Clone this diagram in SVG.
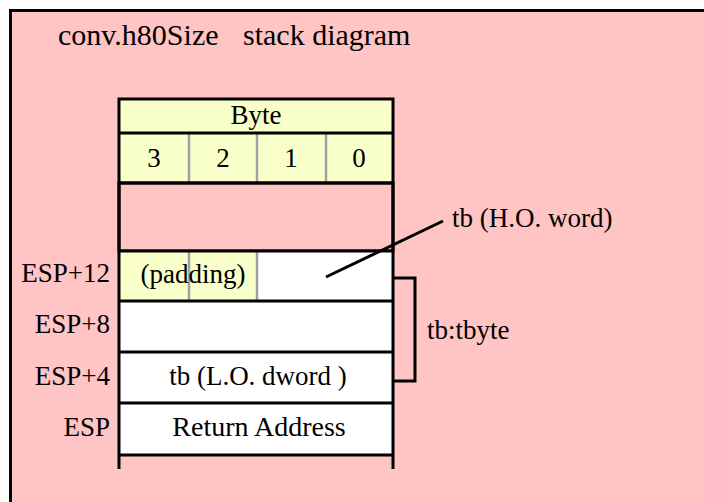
<svg xmlns="http://www.w3.org/2000/svg" width="704" height="502" viewBox="0 0 704 502">
<style>
text{font-family:"Liberation Serif","Times New Roman",serif;font-size:27px;fill:#000}
text.t{font-size:30px}
text.r{font-size:28px}
.mid{text-anchor:middle}
.end{text-anchor:end}
.b{stroke:#000;stroke-width:3;fill:none}
.g{stroke:#a0a0a0;stroke-width:2.5}
.y{fill:#f9ffc9}
.w{fill:#fff}
</style>
<rect x="10.5" y="10.5" width="720" height="520" fill="#ffc4c4" stroke="#000" stroke-width="3"/>
<g id="title">
<text x="58" y="45" class="t">conv.h80Size</text>
<text x="243" y="45" class="t">stack diagram</text>
</g>
<g id="header">
<rect x="119" y="99" width="274" height="34" class="y"/>
<text x="256" y="124" class="mid">Byte</text>
<rect x="119" y="133" width="274" height="50" class="y"/>
<line x1="189" y1="133" x2="189" y2="183" class="g"/>
<line x1="257" y1="133" x2="257" y2="183" class="g"/>
<line x1="326" y1="133" x2="326" y2="183" class="g"/>
<text x="154" y="167" class="mid">3</text>
<text x="223" y="167" class="mid">2</text>
<text x="291" y="167" class="mid">1</text>
<text x="359" y="167" class="mid">0</text>
<rect x="119" y="99" width="274" height="84" class="b"/>
<line x1="119" y1="133" x2="393" y2="133" class="b"/>
</g>
<g id="empty-row">
<rect x="119" y="183" width="274" height="68" class="b"/>
</g>
<g id="esp12">
<rect x="119" y="251" width="274" height="50" class="w"/>
<rect x="119" y="251" width="138" height="50" class="y"/>
<line x1="189" y1="251" x2="189" y2="301" class="g"/>
<line x1="257" y1="251" x2="257" y2="301" class="g"/>
<text x="193" y="283" class="mid">(padding)</text>
<text x="110" y="282" class="end">ESP+12</text>
</g>
<g id="esp8">
<rect x="119" y="301" width="274" height="51" class="w"/>
<text x="110" y="333" class="end">ESP+8</text>
</g>
<g id="esp4">
<rect x="119" y="352" width="274" height="51" class="w"/>
<text x="258" y="385" class="mid">tb (L.O. dword )</text>
<text x="110" y="385" class="end">ESP+4</text>
</g>
<g id="esp">
<rect x="119" y="403" width="274" height="52" class="w"/>
<text x="259" y="436" class="mid r">Return Address</text>
<text x="110" y="436" class="end">ESP</text>
</g>
<g id="frame-lines">
<line x1="119" y1="183" x2="119" y2="469" class="b"/>
<line x1="393" y1="183" x2="393" y2="469" class="b"/>
<line x1="119" y1="251" x2="393" y2="251" class="b" stroke-width="4"/>
<line x1="119" y1="301" x2="393" y2="301" class="b"/>
<line x1="119" y1="352" x2="393" y2="352" class="b"/>
<line x1="119" y1="403" x2="393" y2="403" class="b"/>
<line x1="119" y1="455" x2="393" y2="455" class="b"/>
</g>
<g id="tbyte-label">
<text x="427" y="339">tb:tbyte</text>
</g>
<g id="howord-label">
<text x="452" y="227">tb (H.O. word)</text>
</g>
<g id="connectors">
<path d="M393,278 H415 V381 H393" class="b"/>
<line x1="326" y1="277" x2="443" y2="221" class="b"/>
</g>
</svg>
